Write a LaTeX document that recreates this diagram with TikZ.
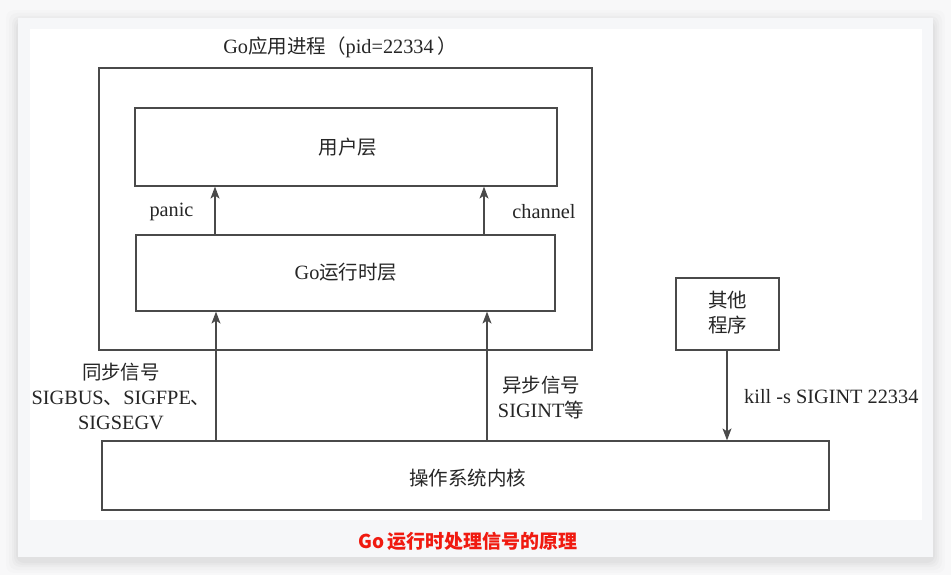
\documentclass[tikz,border=0pt]{standalone}
\usepackage{fontspec}
\setmainfont{Liberation Serif}
\newfontfamily\cjk{Noto Sans CJK SC}
\newfontfamily\capfont{Noto Sans CJK SC}
\usetikzlibrary{arrows.meta}
\definecolor{linegray}{HTML}{4A4A4A}
\definecolor{txtgray}{HTML}{262626}
\definecolor{capred}{HTML}{F01A10}
\definecolor{outerbg}{HTML}{F8F8F9}
\definecolor{cardbg}{HTML}{F6F7F9}
\newcommand{\zh}[1]{{\cjk\fontsize{19.5}{25}\selectfont #1}}
\tikzset{
  box/.style={draw=linegray, line width=1.2pt, rectangle, inner sep=0pt},
  lbl/.style={text=txtgray, font=\fontsize{20.3}{25}\selectfont, inner sep=0pt, align=center},
  arr/.style={draw=linegray, line width=1.2pt, -{Stealth[length=12pt,width=9pt,inset=3pt]}},
}
\begin{document}
\begin{tikzpicture}[x=1pt,y=-1pt]
\useasboundingbox (0,0) rectangle (951,575);
% background
\fill[outerbg] (0,0) rectangle (951,575);
\foreach \d/\o in {12/0.012,9/0.015,6/0.018,4/0.02,2/0.025} {
  \fill[black,opacity=\o,rounded corners=8pt] (18-\d,18-\d+4) rectangle (933+\d,557+\d+4);
}
\fill[cardbg] (18,18) rectangle (933,557);
\fill[white] (30,29) rectangle (922,520);

% boxes
\node[box, minimum width=493pt, minimum height=282pt] (proc) at (345.5,209) {};
\node[box, minimum width=422pt, minimum height=78pt] (user) at (346,147) {};
\node[box, minimum width=419pt, minimum height=76pt] (rt) at (345.5,273) {};
\node[box, minimum width=727pt, minimum height=69pt] (kernel) at (465.5,475.5) {};
\node[box, minimum width=103pt, minimum height=72pt] (other) at (727.5,314) {};

% box texts
\node[lbl] (userT) at (348,147) {\zh{用户层}};
\node[lbl] (rtT) at (346,272) {Go\zh{运行时层}};
\node[lbl] (kernelT) at (467.5,478) {\zh{操作系统内核}};
\node[lbl] (otherT) at (727.5,313) {\zh{其他}\\\zh{程序}};
\node[lbl] (title) at (340,47) {Go\zh{应用进程（}pid=22334\,\zh{）}};

% arrow x positions
\coordinate (xa) at (215,0);
\coordinate (xb) at (484,0);
\coordinate (xc) at (216,0);
\coordinate (xd) at (487,0);
\coordinate (xe) at (727,0);

\draw[arr] (rt.north -| xa) -- (user.south -| xa);
\draw[arr] (rt.north -| xb) -- (user.south -| xb);
\draw[arr] (kernel.north -| xc) -- (rt.south -| xc);
\draw[arr] (kernel.north -| xd) -- (rt.south -| xd);
\draw[arr] (other.south -| xe) -- (kernel.north -| xe);

% labels
\node[lbl] (panicL) at (171.5,212) {panic};
\node[lbl] (chanL) at (544,212) {channel};
\node[lbl] (syncL) at (121,396) {\zh{同步信号}\\SIGBUS\zh{、}SIGFPE\zh{、}\\SIGSEGV};
\node[lbl] (asyncL) at (541,398) {\zh{异步信号}\\SIGINT\zh{等}};
\node[lbl, anchor=west] (killL) at (744,397) {kill -s SIGINT 22334};

% caption
\node[text=capred, inner sep=0pt, font=\capfont\bfseries\fontsize{19}{22}\selectfont] (cap) at (468,541) {Go\,运行时处理信号的原理};
\end{tikzpicture}
\end{document}
